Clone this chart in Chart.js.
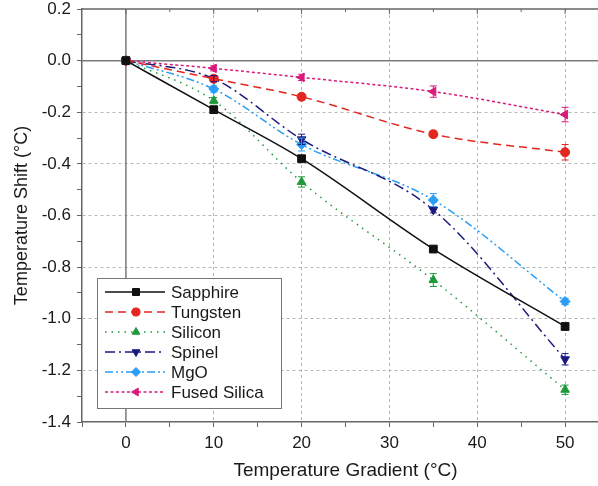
<!DOCTYPE html>
<html>
<head>
<meta charset="utf-8">
<script src="https://cdn.jsdelivr.net/npm/chart.js@4/dist/chart.umd.min.js"></script>
<style>
  html, body { margin: 0; padding: 0; background: #fff; overflow: hidden; }
  #wrap { width: 598px; height: 486px; overflow: hidden; }
  #c { display: block; }
</style>
</head>
<body>
<div id="wrap"><canvas id="c" width="620" height="486"></canvas></div>
<script>
// Temperature gradient (x) values
const gradient = [0, 10, 20, 35, 50];

// Temperature shift per material
const sapphire    = [0, -0.19, -0.38, -0.73, -1.03];
const tungsten    = [0, -0.07, -0.14, -0.285, -0.355];
const silicon     = [0, -0.155, -0.47, -0.85, -1.275];
const spinel      = [0, -0.07, -0.305, -0.578, -1.157];
const mgo         = [0, -0.11, -0.325, -0.54, -0.933];
const fusedSilica = [0, -0.03, -0.065, -0.12, -0.209];

// Error bar half-heights
const sapphireErr    = [0, 0.005, 0.008, 0.008, 0.01];
const tungstenErr    = [0, 0.01, 0.012, 0.012, 0.03];
const siliconErr     = [0, 0.012, 0.02, 0.025, 0.018];
const spinelErr      = [0, 0.012, 0.02, 0.012, 0.022];
const mgoErr         = [0, 0.012, 0.025, 0.025, 0.012];
const fusedSilicaErr = [0, 0.01, 0.012, 0.022, 0.028];

const FONT = "'Liberation Sans', Arial, sans-serif";

function series(label, values, errors, color, dash, pointStyle, radius, rotation) {
  return {
    label: label,
    data: gradient.map((g, i) => ({ x: g, y: values[i] })),
    errors: errors,
    borderColor: color,
    backgroundColor: color,
    borderWidth: 1.5,
    borderDash: dash,
    pointStyle: pointStyle,
    pointRadius: radius,
    pointRotation: rotation || 0,
    pointBorderWidth: 1,
    cubicInterpolationMode: 'monotone',
    fill: false
  };
}

const datasets = [
  series('Sapphire', sapphire, sapphireErr, '#111111', [], 'rect', 5.5),
  series('Tungsten', tungsten, tungstenErr, '#e3261f', [8, 5], 'circle', 4.5),
  series('Silicon', silicon, siliconErr, '#1f9a3a', [1.5, 5], 'triangle', 5),
  series('Spinel', spinel, spinelErr, '#1b1b7e', [10, 4, 2, 4], 'triangle', 5, 180),
  series('MgO', mgo, mgoErr, '#2a9df4', [8, 3, 2, 3, 2, 3], 'rectRot', 5),
  series('Fused Silica', fusedSilica, fusedSilicaErr, '#d81b7a', [3, 2.5], 'triangle', 5, 270)
];

// Draws zero lines and the top frame with inward ticks
const framePlugin = {
  id: 'frame',
  beforeDatasetsDraw(chart) {
    const { ctx, chartArea: a, scales: { x, y } } = chart;
    ctx.save();
    ctx.strokeStyle = '#7a7a7a';
    ctx.lineWidth = 1.5;
    const x0 = x.getPixelForValue(0);
    const y0 = y.getPixelForValue(0);
    ctx.beginPath();
    ctx.moveTo(x0, a.top); ctx.lineTo(x0, a.bottom);
    ctx.moveTo(a.left, y0); ctx.lineTo(a.right, y0);
    ctx.stroke();
    // top border
    ctx.strokeStyle = '#666';
    ctx.beginPath();
    ctx.moveTo(a.left, a.top); ctx.lineTo(a.right, a.top);
    ctx.stroke();
    ctx.lineWidth = 1;
    ctx.beginPath();
    for (let v = 0; v <= 55; v += 5) {
      const px = x.getPixelForValue(v);
      const len = v % 10 === 0 ? 5 : 3;
      ctx.moveTo(px, a.top); ctx.lineTo(px, a.top + len);
    }
    ctx.stroke();
    ctx.restore();
  }
};

// Vertical error bars with caps
const errorBarPlugin = {
  id: 'errorBars',
  afterDatasetsDraw(chart) {
    const { ctx, scales: { x, y } } = chart;
    chart.data.datasets.forEach(ds => {
      ctx.save();
      ctx.strokeStyle = ds.borderColor;
      ctx.lineWidth = 1;
      ctx.setLineDash([]);
      ds.data.forEach((p, j) => {
        const e = ds.errors[j];
        if (!e) return;
        const px = x.getPixelForValue(p.x);
        const top = y.getPixelForValue(p.y + e);
        const bot = y.getPixelForValue(p.y - e);
        ctx.beginPath();
        ctx.moveTo(px, top); ctx.lineTo(px, bot);
        ctx.moveTo(px - 3.5, top); ctx.lineTo(px + 3.5, top);
        ctx.moveTo(px - 3.5, bot); ctx.lineTo(px + 3.5, bot);
        ctx.stroke();
      });
      ctx.restore();
    });
  }
};

function drawMarker(ctx, style, r, rotation, cx, cy) {
  ctx.save();
  ctx.translate(cx, cy);
  ctx.rotate((rotation || 0) * Math.PI / 180);
  ctx.beginPath();
  if (style === 'rect') {
    const s = r * Math.SQRT1_2;
    ctx.rect(-s, -s, 2 * s, 2 * s);
  } else if (style === 'circle') {
    ctx.arc(0, 0, r, 0, Math.PI * 2);
  } else if (style === 'triangle') {
    ctx.moveTo(0, -r);
    ctx.lineTo(r * 0.866, r * 0.5);
    ctx.lineTo(-r * 0.866, r * 0.5);
    ctx.closePath();
  } else if (style === 'rectRot') {
    ctx.moveTo(0, -r); ctx.lineTo(r, 0); ctx.lineTo(0, r); ctx.lineTo(-r, 0);
    ctx.closePath();
  }
  ctx.fill();
  ctx.stroke();
  ctx.restore();
}

// Legend box inside the plot area
const legendPlugin = {
  id: 'insideLegend',
  afterDraw(chart) {
    const { ctx } = chart;
    const boxX = 97, boxY = 278, boxW = 184, boxH = 130;
    ctx.save();
    ctx.fillStyle = '#fff';
    ctx.fillRect(boxX, boxY, boxW, boxH);
    ctx.strokeStyle = '#777';
    ctx.lineWidth = 1;
    ctx.strokeRect(boxX + 0.5, boxY + 0.5, boxW, boxH);
    ctx.font = '17px ' + FONT;
    ctx.textBaseline = 'middle';
    chart.data.datasets.forEach((ds, i) => {
      const cy = 292 + i * 20;
      ctx.strokeStyle = ds.borderColor;
      ctx.fillStyle = ds.borderColor;
      ctx.lineWidth = 1.5;
      ctx.setLineDash(ds.borderDash);
      ctx.beginPath();
      ctx.moveTo(105, cy); ctx.lineTo(165, cy);
      ctx.stroke();
      ctx.setLineDash([]);
      ctx.lineWidth = 1;
      drawMarker(ctx, ds.pointStyle, ds.pointRadius * 0.9, ds.pointRotation, 136, cy);
      ctx.fillStyle = '#1a1a1a';
      ctx.fillText(ds.label, 171, cy + 1);
    });
    ctx.restore();
  }
};

new Chart(document.getElementById('c'), {
  type: 'line',
  data: { datasets: datasets },
  plugins: [framePlugin, errorBarPlugin, legendPlugin],
  options: {
    responsive: false,
    animation: false,
    layout: { padding: { top: 9, right: 11, left: 0, bottom: 0 } },
    plugins: {
      legend: { display: false },
      tooltip: { enabled: false }
    },
    scales: {
      x: {
        type: 'linear',
        min: -5,
        max: 55,
        afterFit: scale => {
          scale.height = 64;
          scale.paddingLeft = 0;
          scale.paddingRight = 0;
        },
        ticks: {
          stepSize: 5,
          autoSkip: false,
          maxRotation: 0,
          padding: 6,
          color: '#1a1a1a',
          font: { family: FONT, size: 17 },
          callback: v => (v % 10 === 0 && v >= 0 && v <= 50) ? String(v) : ''
        },
        grid: {
          color: c => (c.tick && c.tick.value % 10 === 0 && c.tick.value > 0 && c.tick.value <= 50) ? '#b5b5b5' : 'rgba(0,0,0,0)',
          tickColor: '#666',
          tickLength: 5,
          lineWidth: 1
        },
        border: { display: true, color: '#666', width: 1.5, dash: [3, 3] },
        title: {
          display: true,
          text: 'Temperature Gradient (°C)',
          color: '#1a1a1a',
          font: { family: FONT, size: 19 },
          padding: { top: 0, bottom: 4 }
        }
      },
      y: {
        min: -1.4,
        max: 0.2,
        afterFit: scale => {
          scale.width = 82;
          scale.paddingTop = 0;
          scale.paddingBottom = 0;
        },
        ticks: {
          stepSize: 0.1,
          autoSkip: false,
          padding: 6,
          color: '#1a1a1a',
          font: { family: FONT, size: 17 },
          callback: v => {
            const k = Math.round(v * 10);
            return k % 2 === 0 ? (k / 10).toFixed(1) : '';
          }
        },
        grid: {
          color: c => {
            if (!c.tick) return 'rgba(0,0,0,0)';
            const k = Math.round(c.tick.value * 10);
            return (k % 2 === 0 && k < 0 && k > -14) ? '#b5b5b5' : 'rgba(0,0,0,0)';
          },
          tickColor: '#666',
          tickLength: 5,
          lineWidth: 1
        },
        border: { display: true, color: '#666', width: 1.5, dash: [3, 3] },
        title: {
          display: true,
          text: 'Temperature Shift (°C)',
          color: '#1a1a1a',
          font: { family: FONT, size: 18 },
          padding: { top: 11, bottom: 0 }
        }
      }
    }
  }
});
</script>
</body>
</html>
